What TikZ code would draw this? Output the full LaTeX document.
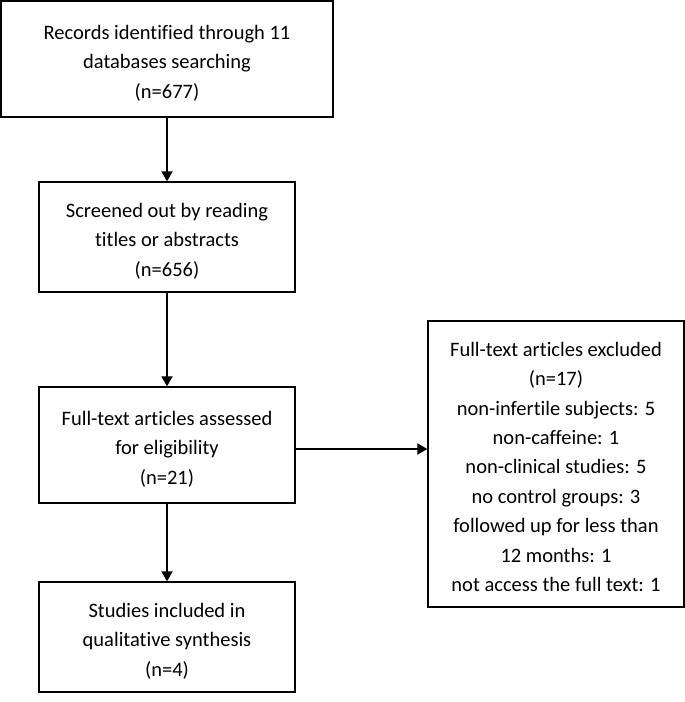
\documentclass[tikz,border=0pt]{standalone}
\usepackage{fontspec}
\setmainfont{Carlito}[Ligatures=NoCommon]
\usetikzlibrary{arrows.meta,calc}
\newcommand\boxtext[1]{\raisebox{-4pt}[\height][\depth]{\begin{tabular}{@{}c@{}}#1\end{tabular}}}
\begin{document}
\begin{tikzpicture}[x=1pt,y=-1pt,
  box/.style={draw=black,line width=1.3pt,align=center,inner sep=0pt,
    font=\fontsize{20.5}{29.4}\selectfont},
  conn/.style={line width=1.8pt,-{Triangle[length=10pt,width=11pt]}}]
\useasboundingbox (0,0) rectangle (685,702);
\node[box,minimum width=332pt,minimum height=116pt] (b1) at (167,59)
  {\boxtext{Records identified through 11\\databases searching\\(n=677)}};
\node[box,minimum width=256pt,minimum height=110pt] (b2) at (167,237)
  {\boxtext{Screened out by reading\\titles or abstracts\\(n=656)}};
\node[box,minimum width=256pt,minimum height=116pt] (b3) at (167,445)
  {\boxtext{Full-text articles assessed\\for eligibility\\(n=21)}};
\node[box,minimum width=256pt,minimum height=110pt] (b4) at (167,637)
  {\boxtext{Studies included in\\qualitative synthesis\\(n=4)}};
\node[box,minimum width=256pt,minimum height=286pt] (b5) at (556,464)
  {\boxtext{Full-text articles excluded\\(n=17)\\non-infertile subjects: 5\\non-caffeine: 1\\non-clinical studies: 5\\no control groups: 3\\followed up for less than\\12 months: 1\\not access the full text: 1}};
\draw[conn] (b1) -- (b2);
\draw[conn] (b2) -- (b3);
\draw[conn] (b3) -- (b4);
\coordinate (c3) at ($(b3.east)+(0,4)$);
\draw[conn] (c3) -- (c3 -| b5.west);
\end{tikzpicture}
\end{document}
